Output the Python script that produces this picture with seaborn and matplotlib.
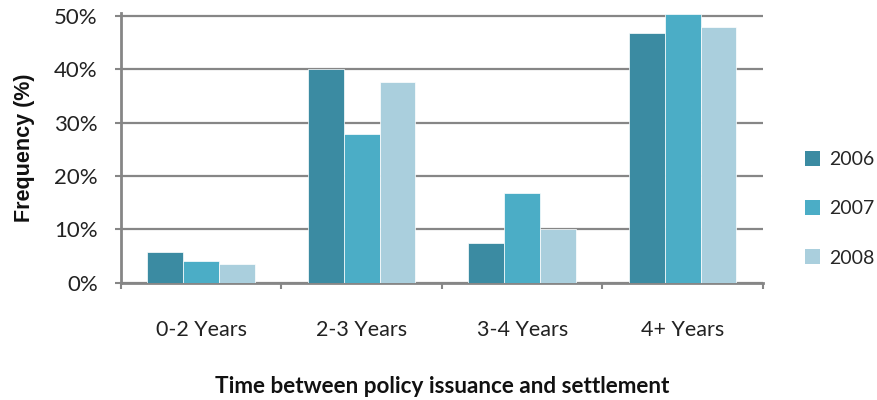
import matplotlib
matplotlib.use("Agg")
import matplotlib.pyplot as plt
import seaborn as sns
import pandas as pd
from matplotlib.patches import Patch

categories = ["0-2 Years", "2-3 Years", "3-4 Years", "4+ Years"]
years = ["2006", "2007", "2008"]
values_2006 = [5.7, 40.0, 7.4, 46.7]
values_2007 = [4.0, 27.9, 16.9, 50.4]
values_2008 = [3.6, 37.7, 10.0, 48.0]
y_ticks = [0, 10, 20, 30, 40, 50]
colors = ["#3B8BA2", "#4BADC6", "#AACFDD"]

rows = []
for yr, vals in zip(years, [values_2006, values_2007, values_2008]):
    for cat, v in zip(categories, vals):
        rows.append({"category": cat, "year": yr, "value": v})
df = pd.DataFrame(rows)

sns.set_theme(style="white")
plt.rcParams["font.family"] = ["Lato", "DejaVu Sans"]

fig = plt.figure(figsize=(8.78, 4.0), dpi=100)
ax = fig.add_axes([0.1375, 0.293, 0.7315, 0.674])

sns.barplot(data=df, x="category", y="value", hue="year", order=categories,
            hue_order=years, palette=colors, width=0.67, saturation=1,
            edgecolor="white", linewidth=0.5, legend=False, ax=ax, zorder=3)

ax.set_ylim(0, 50.5)
ax.set_xlim(-0.5, 3.5)
ax.set_yticks(y_ticks)
ax.set_yticklabels([f"{t}%" for t in y_ticks], fontsize=16, color="#222222")
ax.yaxis.grid(True, color="#868686", linewidth=1.6, zorder=0)
ax.set_axisbelow(True)

# category labels centred, tick marks at the group boundaries
ax.set_xticks(range(len(categories)))
ax.set_xticklabels(categories, fontsize=15.5, color="#222222")
ax.set_xticks([i - 0.5 for i in range(len(categories) + 1)], minor=True)
ax.tick_params(axis="x", which="major", length=0, pad=27)
ax.tick_params(axis="x", which="minor", length=4.5, width=1.5, color="#868686",
               direction="out", bottom=True)
ax.tick_params(axis="y", length=4.5, width=1.5, color="#868686", left=True,
               direction="out", pad=12)

for side in ["top", "right"]:
    ax.spines[side].set_visible(False)
for side in ["left", "bottom"]:
    ax.spines[side].set_color("#868686")
    ax.spines[side].set_linewidth(2)

ax.set_xlabel("Time between policy issuance and settlement", fontsize=16.2,
              fontweight="bold", labelpad=26, color="#111111")
ax.set_ylabel("Frequency (%)", fontsize=15.5, fontweight="bold", labelpad=14,
              color="#111111", family=["Liberation Sans", "DejaVu Sans"])

handles = [Patch(facecolor=c, edgecolor="none") for c in colors]
fig.legend(handles, years, loc="center left", bbox_to_anchor=(0.912, 0.478),
           frameon=False, fontsize=14, handlelength=0.8, handleheight=0.8,
           handletextpad=0.45, labelspacing=1.65, borderaxespad=0,
           borderpad=0.2)

fig.savefig("out.png", dpi=100)
